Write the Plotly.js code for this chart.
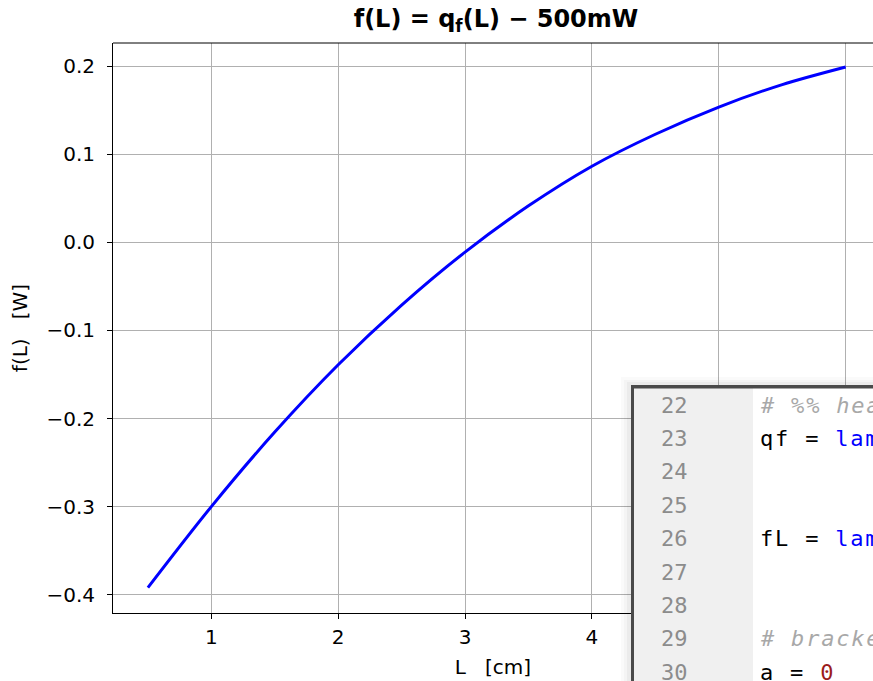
<!DOCTYPE html>
<html>
<head>
<meta charset="utf-8">
<script src="https://cdn.plot.ly/plotly-3.0.1.min.js"></script>
<style>
  html, body { margin: 0; padding: 0; background: #fff; }
  #chart { width: 873px; height: 681px; }
</style>
</head>
<body>
<div id="chart"></div>
<script>
// ---- data ----
const L_cm = [0.5, 1.0, 1.5, 2.0, 2.5, 3.0, 3.5, 4.0, 4.5, 5.0, 5.5, 6.0];
const fL_W = [-0.392, -0.300, -0.2154, -0.139, -0.0712, -0.011, 0.0415, 0.0865, 0.1228, 0.1537, 0.1792, 0.1992];

const xTicks = [1, 2, 3, 4, 5, 6];
const yTicks = [-0.4, -0.3, -0.2, -0.1, 0.0, 0.1, 0.2];
const yTickText = ['\u22120.4', '\u22120.3', '\u22120.2', '\u22120.1', '0.0', '0.1', '0.2'];

// code editor overlay (screenshot part of the picture)
const lineNumbers = [22, 23, 24, 25, 26, 27, 28, 29, 30];
const codeTokens = [
  [['# %% hea', 'comment']],
  [['qf = ', 'plain'], ['lam', 'kw']],
  [],
  [],
  [['fL = ', 'plain'], ['lam', 'kw']],
  [],
  [],
  [['# bracke', 'comment']],
  [['a = ', 'plain'], ['0', 'num']]
];
const tokenColors = { comment: '#a8a8a8', plain: '#000000', kw: '#0000ff', num: '#9b1c1c' };

// ---- layout geometry ----
const W = 873, H = 681;
const mL = 113, mT = 43, mB = 68, mR = 0;
const plotW = W - mL - mR, plotH = H - mT - mB;
const px = p => (p - mL) / plotW;          // pixel x -> paper x
const py = p => (H - mB - p) / plotH;      // pixel y -> paper y

const shapes = [];
// top spine
shapes.push({type: 'line', xref: 'paper', yref: 'paper', x0: 0, x1: 1, y0: 1, y1: 1,
             line: {color: '#000', width: 1}, layer: 'above'});
// editor window shadow
const shadowSteps = [[621, 377, 0.02], [624, 380, 0.025], [627, 382, 0.035]];
shadowSteps.forEach(s => shapes.push({type: 'rect', xref: 'paper', yref: 'paper',
  x0: px(s[0]), x1: px(W + 2), y0: py(H + 2), y1: py(s[1]),
  fillcolor: 'rgba(0,0,0,' + s[2] + ')', line: {width: 0}, layer: 'above'}));
// dark window border
shapes.push({type: 'rect', xref: 'paper', yref: 'paper', x0: px(631), x1: px(W + 2), y0: py(H + 2), y1: py(385),
  fillcolor: '#4a4a4a', line: {width: 0}, layer: 'above'});
// gutter
shapes.push({type: 'rect', xref: 'paper', yref: 'paper', x0: px(634), x1: px(753), y0: py(H + 2), y1: py(388.5),
  fillcolor: '#f0f0f0', line: {width: 0}, layer: 'above'});
// code area
shapes.push({type: 'rect', xref: 'paper', yref: 'paper', x0: px(753), x1: px(W + 2), y0: py(H + 2), y1: py(388.5),
  fillcolor: '#ffffff', line: {width: 0}, layer: 'above'});

const annotations = [];
const lineY0 = 405, lineStep = 33.4;
lineNumbers.forEach((n, i) => {
  const yc = lineY0 + i * lineStep;
  annotations.push({xref: 'paper', yref: 'paper', x: px(690), y: py(yc), xanchor: 'right', yanchor: 'middle',
    text: String(n), showarrow: false,
    font: {family: 'DejaVu Sans Mono', size: 22, color: '#8c8c8c'}});
  const toks = codeTokens[i];
  if (toks.length) {
    const html = toks.map(t => {
      let s = t[0].replace(/ /g, '\u00a0');
      const span = '<span style="letter-spacing:1.8px;color:' + tokenColors[t[1]] + '">' + s + '</span>';
      return t[1] === 'comment' ? '<i>' + span + '</i>' : span;
    }).join('');
    annotations.push({xref: 'paper', yref: 'paper', x: px(758), y: py(yc), xanchor: 'left', yanchor: 'middle',
      text: html, showarrow: false, align: 'left',
      font: {family: 'DejaVu Sans Mono', size: 22, color: '#000'}});
  }
});

const trace = {
  x: L_cm, y: fL_W, type: 'scatter', mode: 'lines',
  line: {color: '#0000ff', width: 3, shape: 'spline', smoothing: 0.9},
  hoverinfo: 'skip'
};

const layout = {
  width: W, height: H,
  margin: {l: mL, r: mR, t: mT, b: mB, pad: 0},
  paper_bgcolor: '#ffffff', plot_bgcolor: '#ffffff',
  showlegend: false,
  font: {family: 'DejaVu Sans', size: 20, color: '#000'},
  title: {
    text: '<b>f(L) = q<sub>f</sub>(L) \u2212 500mW</b>',
    font: {family: 'DejaVu Sans', size: 24, color: '#000'},
    xref: 'container', yref: 'container', x: 496 / W, y: 1 - 19 / H,
    xanchor: 'center', yanchor: 'middle'
  },
  xaxis: {
    range: [0.225, (W - 84.66) / 126.84],
    tickvals: xTicks, ticktext: xTicks.map(String),
    ticks: 'outside', ticklen: 5, tickwidth: 1, tickcolor: '#000',
    ticklabelstandoff: 1,
    showline: true, linecolor: '#000', linewidth: 1,
    showgrid: true, gridcolor: '#b0b0b0', gridwidth: 1,
    zeroline: false,
    tickfont: {family: 'DejaVu Sans', size: 20, color: '#000'},
    title: {text: 'L\u00a0\u00a0\u00a0[cm]', font: {family: 'DejaVu Sans', size: 20, color: '#000'}, standoff: 11}
  },
  yaxis: {
    range: [-0.4208, 0.2264],
    tickvals: yTicks, ticktext: yTickText,
    ticks: 'outside', ticklen: 5, tickwidth: 1, tickcolor: '#000',
    ticklabelstandoff: 8,
    showline: true, linecolor: '#000', linewidth: 1,
    showgrid: true, gridcolor: '#b0b0b0', gridwidth: 1,
    zeroline: false,
    tickfont: {family: 'DejaVu Sans', size: 20, color: '#000'},
    title: {text: 'f(L)\u00a0\u00a0\u00a0[W]', font: {family: 'DejaVu Sans', size: 20, color: '#000'}, standoff: 13}
  },
  shapes: shapes,
  annotations: annotations
};

Plotly.newPlot('chart', [trace], layout, {staticPlot: true, displayModeBar: false});
</script>
</body>
</html>
